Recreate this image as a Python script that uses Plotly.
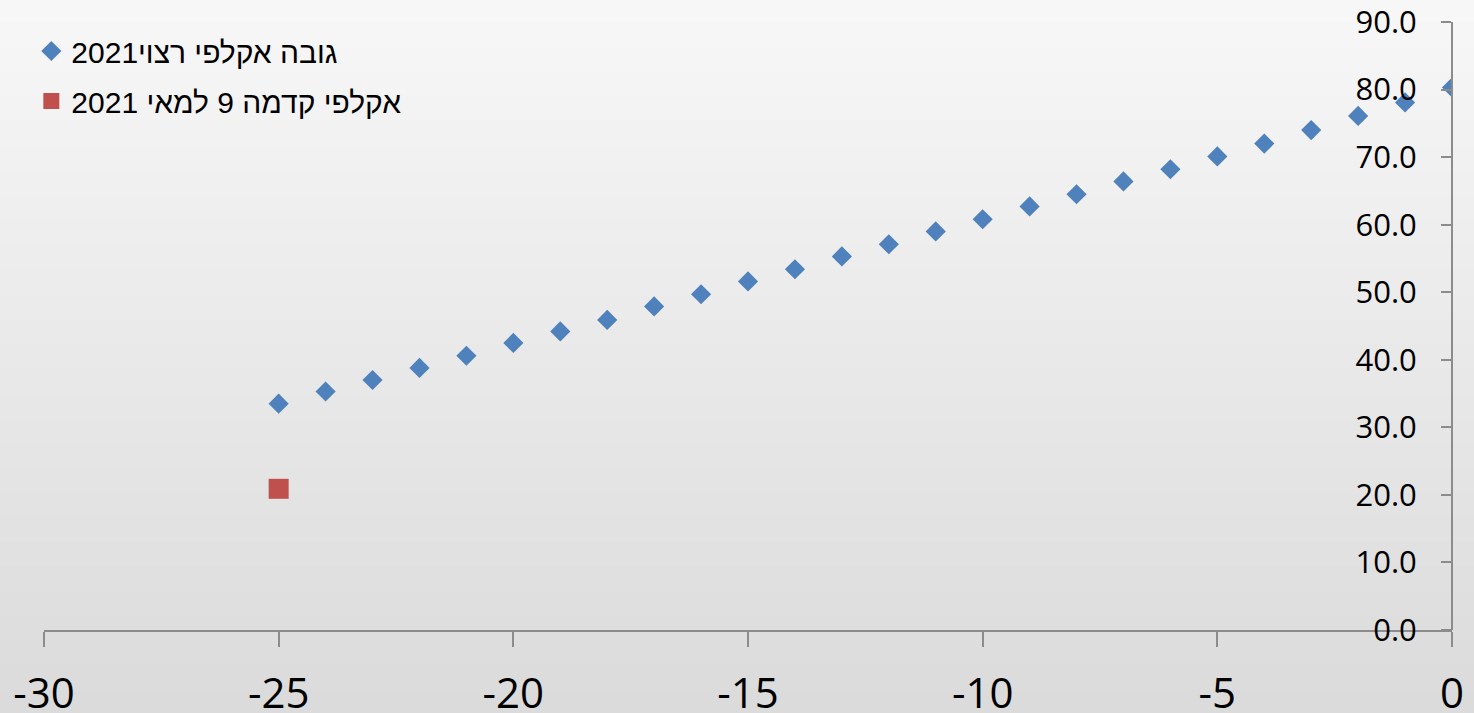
import plotly.graph_objects as go

# Data
x_target = [-25, -24, -23, -22, -21, -20, -19, -18, -17, -16, -15, -14, -13,
            -12, -11, -10, -9, -8, -7, -6, -5, -4, -3, -2, -1, 0]
y_target = [33.5, 35.3, 37.0, 38.8, 40.6, 42.5, 44.2, 45.9, 47.9, 49.7, 51.6, 53.4, 55.3,
            57.1, 59.0, 60.8, 62.7, 64.5, 66.4, 68.2, 70.1, 72.0, 74.0, 76.1, 78.1, 80.3]
x_actual = [-25]
y_actual = [20.9]
name_target = "גובה אקלפי רצוי2021"
name_actual = "אקלפי קדמה 9 למאי 2021"
x_ticks = [-30, -25, -20, -15, -10, -5, 0]
y_ticks = [0, 10, 20, 30, 40, 50, 60, 70, 80, 90]

fig = go.Figure()
fig.add_trace(go.Scatter(
    x=x_target, y=y_target, mode="markers", name=name_target, legendgroup="a",
    marker=dict(symbol="diamond", size=15.5, color="#4F81BD", line=dict(width=0)),
))
fig.add_trace(go.Scatter(
    x=x_actual, y=y_actual, mode="markers", name=name_actual, legendgroup="b",
    marker=dict(symbol="square", size=20, color="#C0504D", line=dict(width=0)),
))

# vertical gradient background built from bands
shapes = []
n = 60
top = (248, 248, 248)
bot = (218, 218, 218)
y_lo, y_hi = -0.16, 1.06
step = (y_hi - y_lo) / n
for i in range(n):
    t = i / (n - 1)
    c = tuple(round(top[k] + (bot[k] - top[k]) * t) for k in range(3))
    shapes.append(dict(
        type="rect", xref="paper", yref="paper", layer="below",
        x0=-0.1, x1=1.1, y0=y_hi - (i + 1) * step - 0.002, y1=y_hi - i * step,
        fillcolor="rgb(%d,%d,%d)" % c, line=dict(width=0),
    ))

fig.update_layout(
    width=1474, height=713,
    margin=dict(l=44, r=22, t=22, b=83, autoexpand=False),
    paper_bgcolor="#eeeeee",
    plot_bgcolor="rgba(0,0,0,0)",
    shapes=shapes,
    showlegend=True,
    legend=dict(
        xref="paper", yref="paper", x=-0.009, y=0.995,
        xanchor="left", yanchor="top",
        bgcolor="rgba(0,0,0,0)", borderwidth=0,
        font=dict(family="Liberation Sans, Arial", size=30, color="#000000"),
        tracegroupgap=8, itemsizing="trace",
    ),
    xaxis=dict(
        range=[-30, 0], tickvals=x_ticks, ticktext=[str(v) for v in x_ticks],
        showgrid=False, zeroline=False, showline=True,
        linecolor="#8c8c8c", linewidth=2,
        ticks="outside", ticklen=15, tickwidth=2, tickcolor="#8c8c8c",
        tickfont=dict(family="Open Sans", size=42, color="#000000"),
        ticklabelstandoff=11, ticklabeloverflow="allow",
        fixedrange=True,
    ),
    yaxis=dict(
        range=[0, 90], tickvals=y_ticks, ticktext=["%.1f" % v for v in y_ticks],
        side="left", anchor="free", position=1.0,
        showgrid=False, zeroline=False, showline=True,
        linecolor="#8c8c8c", linewidth=2,
        ticks="outside", ticklen=10, tickwidth=2, tickcolor="#8c8c8c",
        tickfont=dict(family="Open Sans", size=31, color="#000000"),
        ticklabelstandoff=18, ticklabeloverflow="allow",
        fixedrange=True,
    ),
)

fig.write_html(
    "out.html",
    config={"displayModeBar": False},
    post_script="document.body.style.margin='0';document.body.style.overflow='hidden';",
)
